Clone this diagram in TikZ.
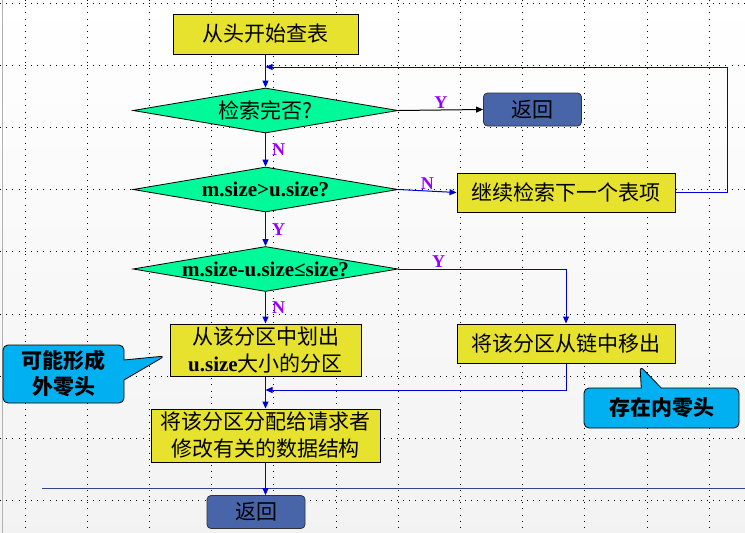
\documentclass[tikz,border=0pt]{standalone}
\usepackage{fontspec}
\newfontfamily\cjk{Noto Sans CJK SC}
\newfontfamily\lat{Liberation Serif}
\usetikzlibrary{shapes.geometric}
\usetikzlibrary{shapes.callouts}
\usetikzlibrary{arrows.meta}
\definecolor{boxyellow}{RGB}{230,226,46}
\definecolor{diagreen}{RGB}{0,250,154}
\definecolor{retblue}{RGB}{72,101,170}
\definecolor{notecyan}{RGB}{0,176,240}
\definecolor{ynpurple}{RGB}{150,0,255}
\definecolor{flowblue}{RGB}{0,0,210}
\definecolor{rulerblue}{RGB}{47,69,140}

\begin{document}
\begin{tikzpicture}[
x=1pt,y=-1pt,
procbox/.style={
  draw,
  fill=boxyellow,
  line width=1pt,
  inner sep=0pt,
  align=center,
  font=\cjk\fontsize{21}{27}\selectfont},
testdia/.style={
  draw,
  diamond,
  fill=diagreen,
  line width=0.8pt,
  inner sep=0pt,
  aspect=6,
  minimum width=265pt,
  minimum height=45pt,
  font=\lat\bfseries\fontsize{21}{21}\selectfont},
retbox/.style={
  draw=black!80,
  fill=retblue,
  rounded corners=4pt,
  line width=0.8pt,
  minimum width=98pt,
  minimum height=33pt,
  font=\cjk\fontsize{21}{21}\selectfont},
notebox/.style={
  draw,
  rectangle callout,
  fill=notecyan,
  rounded corners=5pt,
  line width=0.8pt,
  callout pointer width=20pt,
  align=center,
  inner sep=0pt,
  font=\cjk\bfseries\fontsize{21}{26}\selectfont},
yn/.style={
  text=ynpurple,
  inner sep=1pt,
  font=\lat\bfseries\fontsize{18}{18}\selectfont},
flow/.style={
  draw=flowblue,
  line width=1pt,
  -{Triangle[length=7pt,width=6pt]}},
griddot/.style={
  line width=0.9pt,
  dash pattern=on 0.9pt off 5.3pt}
]
\useasboundingbox (0,0) rectangle (745,533);
\shade[top color=white,bottom color=black!5] (0,0) rectangle (745,533);
\draw[black!30,line width=1pt] (2,0) -- (2,533);
\foreach \k in {0,...,11}
  \draw[griddot] ({25+62.2*\k},0) -- ({25+62.2*\k},533);
\foreach \k in {0,...,8}
  \draw[griddot] (0,{3+62.2*\k}) -- (745,{3+62.2*\k});
\draw[rulerblue,line width=1pt] (42,488) -- (745,488);

\node[procbox,minimum width=185pt,minimum height=40pt] (start) at (265.5,34) {从头开始查表};
\node[testdia] (done) at (265.5,110.5) {\cjk\mdseries 检索完否?};
\node[retbox] (ret1) at (532.5,109.5) {返回};
\node[testdia] (bigger) at (265.5,189.5) {m.size>u.size?};
\node[procbox,minimum width=218pt,minimum height=39pt] (next) at (566,192.5) {继续检索下一个表项};
\node[testdia] (small) at (265.5,269) {m.size-u.size≤size?};
\node[procbox,minimum width=218pt,minimum height=39pt] (unlink) at (566,343.5) {将该分区从链中移出};
\node[procbox,minimum width=191pt,minimum height=52pt] (split) at (265.5,350) {从该分区中划出\\{\lat\bfseries u.size}大小的分区};
\node[procbox,minimum width=229pt,minimum height=53pt] (alloc) at (265.5,435.5) {将该分区分配给请求者\\修改有关的数据结构};
\node[retbox] (ret2) at (256,512) {返回};

\coordinate (loop) at (727,67);
\coordinate (join1) at (265.5,67);
\coordinate (join2) at (265.5,390);

\draw[flow] (start) -- (done);
\draw[flow] (done) -- node[yn,right=5pt] {N} (bigger);
\draw[flow,draw=black] (done.east) -- node[yn,above] {Y} (ret1.west);
\draw[flow] (bigger.east) -- node[yn,above] {N} (next.west);
\draw[flow] (next.east) -| (loop) -- (join1);
\draw[flow] (bigger) -- node[yn,right=5pt] {Y} (small);
\draw[flow] (small.east) -| node[yn,above,pos=0.12] {Y} (unlink.north);
\draw[flow] (small) -- node[yn,right=5pt] {N} (split);
\draw[flow] (unlink.south) |- (join2);
\draw[flow] (split) -- (alloc);
\draw[flow] (alloc.south) -- (alloc.south |- ret2.north);

\node[notebox,minimum width=121pt,minimum height=58pt,
  callout absolute pointer={(165,356)}] (outer) at (63.5,374) {可能形成\\外零头};
\node[notebox,minimum width=155pt,minimum height=40pt,
  callout absolute pointer={(640,366)}] (inner) at (661.5,408) {存在内零头};
\end{tikzpicture}
\end{document}
